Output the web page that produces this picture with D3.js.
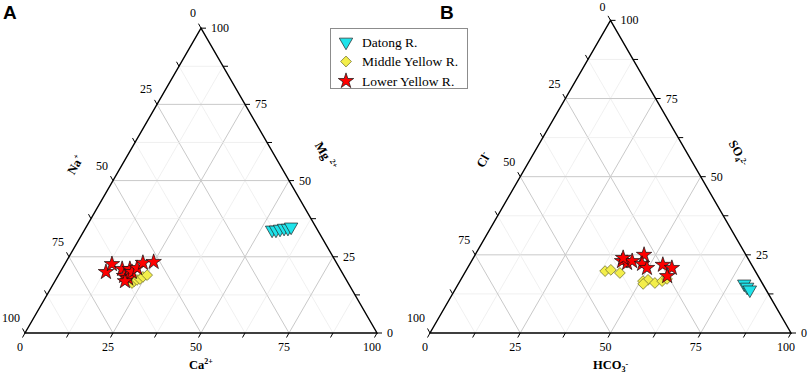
<!DOCTYPE html>
<html>
<head>
<meta charset="utf-8">
<script src="https://cdn.jsdelivr.net/npm/d3@7"></script>
<style>
  body { margin: 0; background: #fff; }
  text { font-family: "Liberation Serif", "Times New Roman", serif; }
</style>
</head>
<body>
<div id="chart"></div>
<script>
var ticks = [0, 25, 50, 75, 100],
    gridSteps = [12.5, 25, 37.5, 50, 62.5, 75, 87.5];

var seriesNames = ["Datong R.", "Middle Yellow R.", "Lower Yellow R."];

// panel A: [Ca, Mg, Na] in %
var datongA = [[53.3, 33.8, 12.9], [54.4, 33.8, 11.8], [55.4, 34.1, 10.5], [56.4, 34.4, 9.2], [57.5, 34.4, 8.1], [58.2, 34.8, 7.0]];
var middleA = [[22.2, 16.4, 61.4], [22.5, 17.0, 60.5], [23.1, 17.4, 59.5], [23.8, 17.7, 58.5], [24.3, 18.4, 57.3], [25.2, 19.0, 55.8]];
var lowerA = [[13.0, 20.0, 67.0], [13.4, 22.6, 64.0], [17.1, 21.0, 61.9], [18.8, 18.7, 62.5], [20.3, 18.0, 61.7], [19.9, 17.0, 63.1],
              [19.3, 21.0, 59.7], [20.4, 20.0, 59.6], [21.2, 21.3, 57.5], [22.0, 23.0, 55.0], [24.9, 23.3, 51.8]];

// panel B: [HCO3, SO4, Cl] in %
var datongB = [[79.2, 15.7, 5.1], [80.5, 14.7, 4.8], [81.7, 13.8, 4.5]];
var middleB = [[38.6, 19.8, 41.6], [40.0, 20.2, 39.8], [43.0, 19.2, 37.8], [50.7, 16.6, 32.7], [51.9, 17.0, 31.1],
               [54.3, 16.0, 29.7], [56.0, 16.6, 27.4], [57.0, 17.3, 25.7], [51.2, 15.7, 33.1]];
var lowerB = [[41.7, 23.0, 35.3], [43.4, 22.4, 34.2], [44.5, 23.0, 32.5], [46.8, 25.0, 28.2], [47.7, 22.1, 30.2],
              [49.7, 20.8, 29.5], [53.6, 21.8, 24.6], [56.6, 20.8, 22.6], [56.6, 18.2, 25.2], [41.5, 24.0, 34.5]];

var colors = ["#1ee3ea", "#f3ee4a", "#ff0000"];

var svg = d3.select("#chart").append("svg")
    .attr("width", 809)
    .attr("height", 374);

var symTri = d3.symbol().type(d3.symbolTriangle).size(78),
    symDia = d3.symbol().type(d3.symbolSquare).size(58),
    symStar = d3.symbol().type(d3.symbolStar).size(74);

function marker(g, i, x, y) {
  if (i == 0) {
    g.append("path").attr("d", symTri()).attr("transform", "translate(" + x + "," + y + ") rotate(180)")
      .attr("fill", colors[0]).attr("stroke", "#222").attr("stroke-width", 0.7);
  } else if (i == 1) {
    g.append("path").attr("d", symDia()).attr("transform", "translate(" + x + "," + y + ") rotate(45)")
      .attr("fill", colors[1]).attr("stroke", "#6b6b2a").attr("stroke-width", 0.7);
  } else {
    g.append("path").attr("d", symStar()).attr("transform", "translate(" + x + "," + y + ")")
      .attr("fill", colors[2]).attr("stroke", "#111").attr("stroke-width", 0.7);
  }
}

// one ternary panel; bottom axis value a, right axis value b, left axis c = 100-a-b
function ternary(o) {
  var H = o.W * Math.sqrt(3) / 2;
  var x = d3.scaleLinear().domain([0, 100]).range([o.L, o.L + o.W]),
      y = d3.scaleLinear().domain([0, 100]).range([o.B, o.B - H]);
  var pos = function(a, b) { return [x(a + b / 2), y(b)]; };
  var g = svg.append("g");

  // grid
  gridSteps.forEach(function(v) {
    var major = (v % 25 == 0);
    var lines = [
      [pos(0, v), pos(100 - v, v)],
      [pos(v, 0), pos(v, 100 - v)],
      [pos(100 - v, 0), pos(0, 100 - v)]
    ];
    lines.forEach(function(l) {
      g.append("line")
        .attr("x1", l[0][0]).attr("y1", l[0][1]).attr("x2", l[1][0]).attr("y2", l[1][1])
        .attr("stroke", major ? "#c9c9c9" : "#ececec")
        .attr("stroke-width", major ? 1 : 0.8);
    });
  });

  // frame
  var corners = [pos(0, 0), pos(100, 0), pos(0, 100)];
  g.append("path")
    .attr("d", d3.line()(corners) + "Z")
    .attr("fill", "none").attr("stroke", "#000").attr("stroke-width", 1.4);

  // ticks every 12.5, labels every 25
  var all = [0, 12.5, 25, 37.5, 50, 62.5, 75, 87.5, 100];
  all.forEach(function(v) {
    var pb = pos(v, 0), pr = pos(100 - v, v), pl = pos(0, 100 - v);
    g.append("line").attr("x1", pb[0]).attr("y1", pb[1]).attr("x2", pb[0] - 2.5).attr("y2", pb[1] + 4.5)
      .attr("stroke", "#000").attr("stroke-width", 1);
    g.append("line").attr("x1", pr[0]).attr("y1", pr[1]).attr("x2", pr[0] + 5).attr("y2", pr[1])
      .attr("stroke", "#000").attr("stroke-width", 1);
    g.append("line").attr("x1", pl[0]).attr("y1", pl[1]).attr("x2", pl[0] - 2.5).attr("y2", pl[1] - 4.5)
      .attr("stroke", "#000").attr("stroke-width", 1);
  });

  ticks.forEach(function(v) {
    var pb = pos(v, 0), pr = pos(100 - v, v), pl = pos(0, 100 - v);
    g.append("text").text(v).attr("x", pb[0] - 5).attr("y", pb[1] + 18)
      .attr("text-anchor", "middle").attr("font-size", 12);
    g.append("text").text(v).attr("x", pr[0] + 10).attr("y", pr[1] + 4)
      .attr("text-anchor", "start").attr("font-size", 12);
    g.append("text").text(v).attr("x", pl[0] - 5).attr("y", Math.max(pl[1] - 11, 11))
      .attr("text-anchor", "end").attr("font-size", 12);
  });

  // axis titles
  function title(parts, tx, ty, rot) {
    var t = g.append("text")
      .attr("transform", "translate(" + tx + "," + ty + ") rotate(" + rot + ")")
      .attr("text-anchor", "middle").attr("font-size", 12.5).attr("font-weight", "bold");
    parts.forEach(function(p) {
      var s = t.append("tspan").text(p[0]);
      if (p[1] == "sup") s.attr("font-size", 8).attr("dy", -5);
      if (p[1] == "sub") s.attr("font-size", 8).attr("dy", 3);
    });
  }
  title(o.bottomTitle, x(50), o.B + 36, 0);
  title(o.leftTitle, o.leftPos[0], o.leftPos[1], -60);
  title(o.rightTitle, o.rightPos[0], o.rightPos[1], 60);

  // panel letter
  g.append("text").text(o.letter).attr("x", o.letterX).attr("y", 19)
    .style("font-family", "Liberation Sans, Arial, sans-serif")
    .attr("font-size", 19).attr("font-weight", "bold");

  // points
  o.series.forEach(function(pts, i) {
    pts.forEach(function(d) {
      var p = pos(d[0], d[1]);
      marker(g, i, p[0], p[1]);
    });
  });
}

ternary({
  L: 25, B: 333, W: 352, letter: "A", letterX: 3,
  bottomTitle: [["Ca", ""], ["2+", "sup"]],
  leftTitle: [["Na", ""], ["+", "sup"]], leftPos: [79, 167],
  rightTitle: [["Mg ", ""], ["2+", "sup"]], rightPos: [322, 158],
  series: [datongA, middleA, lowerA]
});

ternary({
  L: 430, B: 333, W: 361, letter: "B", letterX: 440,
  bottomTitle: [["HCO", ""], ["3", "sub"], ["-", "sup"]],
  leftTitle: [["Cl", ""], ["-", "sup"]], leftPos: [487, 162],
  rightTitle: [["SO", ""], ["4", "sub"], ["2-", "sup"]], rightPos: [735, 155],
  series: [datongB, middleB, lowerB]
});

// legend
var lg = svg.append("g");
lg.append("rect").attr("x", 330.5).attr("y", 28.5).attr("width", 137).attr("height", 60)
  .attr("fill", "#fff").attr("stroke", "#8c8c8c").attr("stroke-width", 1);
seriesNames.forEach(function(name, i) {
  var yy = 42 + i * 19.5;
  marker(lg, i, 346, yy);
  lg.append("text").text(name).attr("x", 362).attr("y", yy + 4.5).attr("font-size", 13.5);
});
</script>
</body>
</html>
